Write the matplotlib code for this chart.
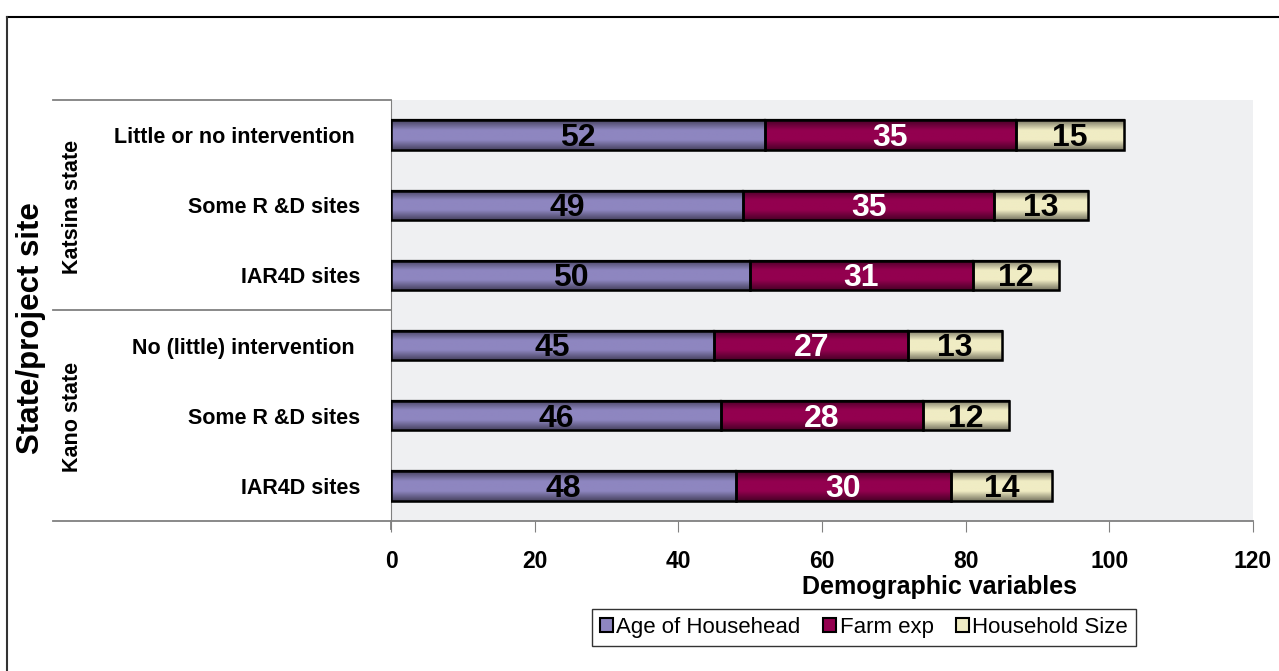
import numpy as np
import matplotlib
matplotlib.use("Agg")
import matplotlib.pyplot as plt
from matplotlib.colors import LinearSegmentedColormap, to_rgb
from matplotlib.patches import Patch
from matplotlib.lines import Line2D

plt.rcParams['font.family'] = ['Liberation Sans', 'DejaVu Sans']

# data, bottom row first
sites = ["IAR4D sites", "Some R &D sites", "No (little) intervention ",
         "IAR4D sites", "Some R &D sites", "Little or no intervention "]
age = [48, 46, 45, 50, 49, 52]
farm = [30, 28, 27, 31, 35, 35]
hh = [14, 12, 13, 12, 13, 15]
series_names = ["Age of Househead", "Farm exp", "Household Size"]
colors = ["#8e86c0", "#93004f", "#f0ecc4"]
txtcol = ["black", "white", "black"]

fig = plt.figure(figsize=(12.79, 6.71), dpi=100)
ax = fig.add_axes([391/1279, 1-521/671, 862/1279, 421/671])
ax.set_facecolor("#eff0f2")

y = np.arange(len(sites))
left = np.zeros(len(sites))
bh = 0.42
for vals, c, tc in zip([age, farm, hh], colors, txtcol):
    bars = ax.barh(y, vals, left=left, height=bh, color=c, edgecolor="black",
                   linewidth=1.6, zorder=3)
    # vertical shading inside each bar
    base = np.array(to_rgb(c))
    dark = base * 0.5
    cmap = LinearSegmentedColormap.from_list("g", [dark, base, base, dark])
    grad = np.linspace(0, 1, 64).reshape(-1, 1)
    for b in bars:
        x0, y0 = b.get_x(), b.get_y()
        im = ax.imshow(grad, cmap=cmap, aspect="auto", zorder=3.5,
                       extent=[x0, x0 + b.get_width(), y0, y0 + b.get_height()],
                       origin="lower")
        im.set_clip_path(b)
        ax.barh(b.get_y() + b.get_height()/2, b.get_width(), left=x0, height=bh,
                fill=False, edgecolor="black", linewidth=1.8, zorder=4)
    for i, v in enumerate(vals):
        ax.annotate(str(v), (left[i] + v/2, y[i]), xytext=(0, -2),
                    textcoords="offset points", ha="center", va="center",
                    fontsize=23, fontweight="bold", color=tc, zorder=5)
    left = left + np.array(vals)

ax.set_xlim(0, 120)
ax.set_ylim(-0.5, 5.5)
ax.set_xticks(range(0, 121, 20))
ax.set_yticks(y)
ax.set_yticklabels(sites, fontsize=15.5, fontweight="bold")
ax.tick_params(axis="y", length=0, pad=22)
ax.tick_params(axis="x", direction="out", length=8, color="#808080", pad=13,
               labelsize=16.5)
for t in ax.get_xticklabels():
    t.set_fontweight("bold")
for s in ["top", "right"]:
    ax.spines[s].set_visible(False)
ax.spines["left"].set_color("#808080")
ax.spines["bottom"].set_visible(False)

gx = (53 - 391) / 862
for yy, x1 in [(0.0, 1.0), (0.5, 0.0), (1.0, 0.0)]:
    ax.add_line(Line2D([gx, x1], [yy, yy], transform=ax.transAxes, color="#808080",
                       linewidth=1.3, clip_on=False))
ax.add_line(Line2D([0, 0], [0, -0.02], transform=ax.transAxes, color="#808080",
                   linewidth=1.3, clip_on=False))

fig.text(940/1279, 1-587/671, "Demographic variables", ha="center", va="center",
         fontsize=18, fontweight="bold")
fig.text(31/1279, 1-328/671, "State/project site", ha="center", va="center",
         rotation=90, fontsize=22.5, fontweight="bold")
fig.text(73/1279, 1-207/671, "Katsina state", ha="center", va="center",
         rotation=90, fontsize=15.5, fontweight="bold")
fig.text(73/1279, 1-417/671, "Kano state", ha="center", va="center",
         rotation=90, fontsize=15.5, fontweight="bold")

# outer frame (top and left edges)
fig.add_artist(Line2D([7/1279, 1], [1-17/671, 1-17/671], transform=fig.transFigure,
                      color="black", linewidth=1.5))
fig.add_artist(Line2D([7/1279, 7/1279], [0, 1-17/671], transform=fig.transFigure,
                      color="#333333", linewidth=1.5))

handles = [Patch(facecolor=c, edgecolor="black", linewidth=1.5) for c in colors]
leg = fig.legend(handles, series_names, loc="center", ncol=3,
                 bbox_to_anchor=(864/1279, 1-627.5/671), fontsize=16,
                 frameon=True, fancybox=False, edgecolor="black",
                 handlelength=0.6, handleheight=0.6, handletextpad=0.15,
                 columnspacing=1.0, borderpad=0.35)
leg.get_frame().set_linewidth(1.0)

fig.savefig("out.png", dpi=100)
